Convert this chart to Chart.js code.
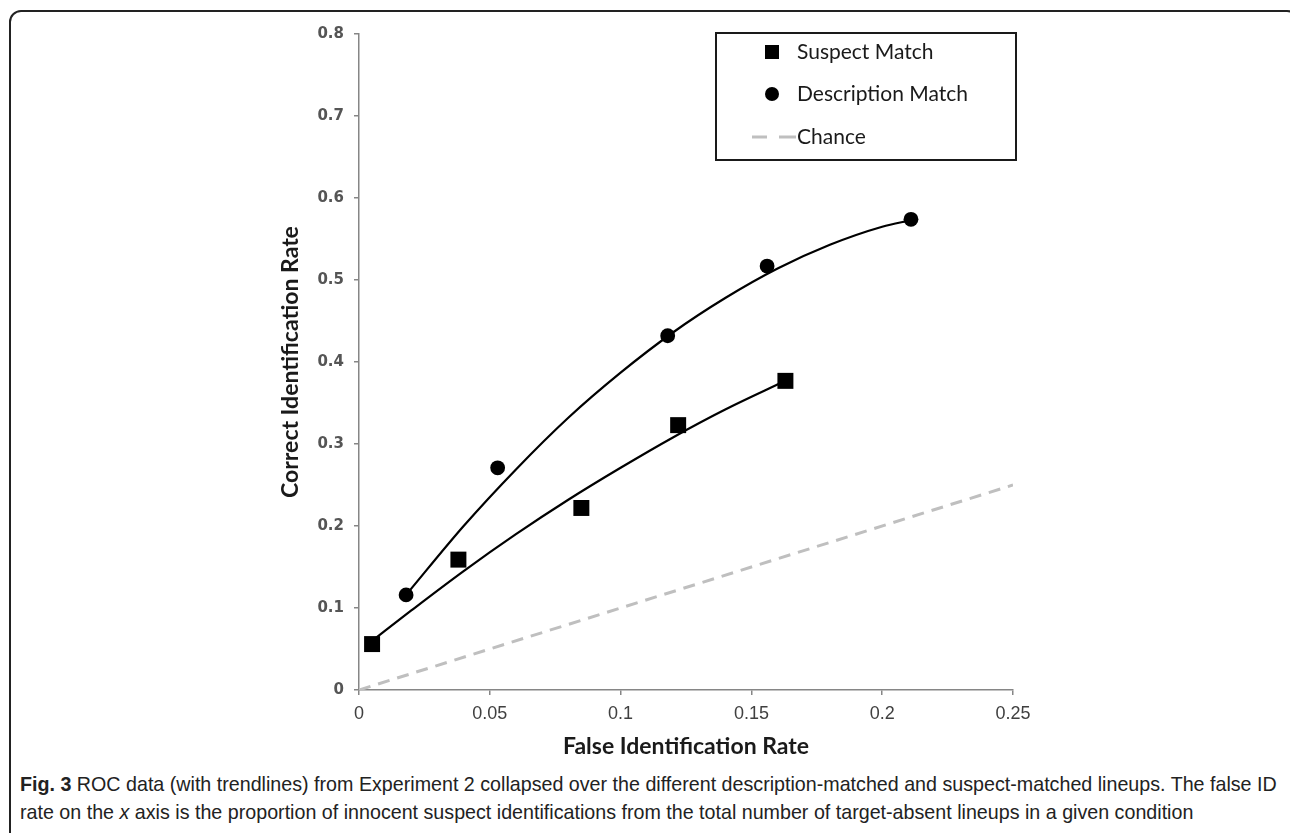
<!DOCTYPE html>
<html>
<head>
<meta charset="utf-8">
<script src="https://cdn.jsdelivr.net/npm/chart.js@4.4.1/dist/chart.umd.min.js"></script>
<style>
  html, body { margin: 0; padding: 0; background: #fff; }
  body { width: 1290px; height: 833px; position: relative; overflow: hidden; }
  #frame {
    position: absolute; left: 9px; top: 10px; width: 1290px; height: 900px;
    border: 2px solid #222; border-radius: 12px; box-sizing: border-box;
  }
  #wrap { position: absolute; left: 0; top: 0; width: 1290px; height: 770px; }
  #caption {
    position: absolute; left: 20px; top: 770px; width: 1265px;
    font-family: "Liberation Sans Narrow", "Liberation Sans", sans-serif;
    font-size: 20px; line-height: 28px; color: #222; white-space: nowrap;
  }
  #caption b { font-weight: bold; }
</style>
</head>
<body>
<div id="frame"></div>
<div id="wrap"><canvas id="rocChart"></canvas></div>
<div id="caption"><span id="line1"><b>Fig. 3</b> ROC data (with trendlines) from Experiment 2 collapsed over the different description-matched and suspect-matched lineups. The false ID</span><br>rate on the <i>x</i> axis is the proportion of innocent suspect identifications from the total number of target-absent lineups in a given condition</div>
<script>
// tick labels
const xTickLabels = ["0", "0.05", "0.1", "0.15", "0.2", "0.25"];
const yTickLabels = ["0", "0.1", "0.2", "0.3", "0.4", "0.5", "0.6", "0.7", "0.8"];

// observed ROC points (false ID rate, correct ID rate)
const suspectX = [0.005, 0.038, 0.085, 0.122, 0.163];
const suspectY = [0.056, 0.159, 0.222, 0.323, 0.377];
const descX = [0.018, 0.053, 0.118, 0.156, 0.211];
const descY = [0.116, 0.271, 0.432, 0.517, 0.574];

// trendlines
const suspectTrendX = [0.005, 0.02, 0.04, 0.06, 0.08, 0.10, 0.12, 0.14, 0.163];
const suspectTrendY = [0.060, 0.097, 0.145, 0.190, 0.232, 0.271, 0.308, 0.342, 0.377];
const descTrendX = [0.018, 0.04, 0.06, 0.08, 0.10, 0.12, 0.14, 0.16, 0.18, 0.20, 0.211];
const descTrendY = [0.116, 0.200, 0.269, 0.332, 0.387, 0.436, 0.478, 0.514, 0.543, 0.565, 0.573];

// chance diagonal
const chanceX = [0, 0.25];
const chanceY = [0, 0.25];

const toPoints = (xs, ys) => xs.map((x, i) => ({ x: x, y: ys[i] }));

// fit caption line 1 to the reference width
(function fitCaption() {
  const line1 = document.getElementById("line1");
  const cap = document.getElementById("caption");
  const w = line1.getBoundingClientRect().width;
  if (w > 0) {
    const size = 20 * 1257 / w;
    cap.style.fontSize = size.toFixed(2) + "px";
  }
})();

// legend drawn as a boxed panel inside the plot
const legendBox = {
  id: "legendBox",
  afterDraw(chart) {
    const { ctx, chartArea } = chart;
    const left = chartArea.left + 357;
    const top = chartArea.top - 1;
    const w = 300, h = 127;
    ctx.save();
    ctx.fillStyle = "#fff";
    ctx.fillRect(left, top, w, h);
    ctx.strokeStyle = "#1a1a1a";
    ctx.lineWidth = 2;
    ctx.strokeRect(left, top, w, h);

    const items = chart.data.datasets.filter(d => d.inLegend);
    const rows = [19, 61, 104];
    ctx.font = '21px Lato, "Open Sans", sans-serif';
    ctx.textBaseline = "middle";
    items.forEach((d, i) => {
      const cy = top + rows[i];
      const mx = left + 56;
      if (d.pointStyle === "rect") {
        ctx.fillStyle = "#000";
        ctx.fillRect(mx - 7, cy - 7, 14, 14);
      } else if (d.pointStyle === "circle") {
        ctx.fillStyle = "#000";
        ctx.beginPath();
        ctx.arc(mx, cy, 7, 0, Math.PI * 2);
        ctx.fill();
      } else {
        ctx.strokeStyle = d.borderColor;
        ctx.lineWidth = 3;
        ctx.beginPath();
        ctx.moveTo(left + 36, cy); ctx.lineTo(left + 51, cy);
        ctx.moveTo(left + 63, cy); ctx.lineTo(left + 80, cy);
        ctx.stroke();
      }
      ctx.fillStyle = "#1a1a1a";
      ctx.fillText(d.label, left + 81, cy);
    });
    ctx.restore();
  }
};

document.addEventListener("DOMContentLoaded", () => {
  const el = document.getElementById("rocChart");
  try {
    new Chart(el, {
      type: "scatter",
      data: {
        datasets: [
          {
            label: "Suspect Match",
            inLegend: true,
            data: toPoints(suspectX, suspectY),
            pointStyle: "rect",
            pointRadius: 11.3,
            backgroundColor: "#000",
            borderColor: "#000",
            borderWidth: 0,
            showLine: false,
            order: 1
          },
          {
            label: "Description Match",
            inLegend: true,
            data: toPoints(descX, descY),
            pointStyle: "circle",
            pointRadius: 7.4,
            backgroundColor: "#000",
            borderColor: "#000",
            borderWidth: 0,
            showLine: false,
            order: 1
          },
          {
            label: "Chance",
            inLegend: true,
            data: toPoints(chanceX, chanceY),
            showLine: true,
            borderColor: "#bfbfbf",
            borderWidth: 3,
            borderDash: [12, 8],
            pointRadius: 0,
            order: 5
          },
          {
            label: "Suspect trend",
            data: toPoints(suspectTrendX, suspectTrendY),
            showLine: true,
            borderColor: "#000",
            borderWidth: 2.2,
            cubicInterpolationMode: "monotone",
            pointRadius: 0,
            order: 3
          },
          {
            label: "Description trend",
            data: toPoints(descTrendX, descTrendY),
            showLine: true,
            borderColor: "#000",
            borderWidth: 2.2,
            cubicInterpolationMode: "monotone",
            pointRadius: 0,
            order: 3
          }
        ]
      },
      options: {
        responsive: true,
        maintainAspectRatio: false,
        animation: false,
        layout: { padding: { left: 273, right: 277, top: 34, bottom: 6 } },
        plugins: {
          legend: { display: false },
          tooltip: { enabled: false }
        },
        scales: {
          x: {
            type: "linear",
            min: 0,
            max: 0.25,
            afterBuildTicks: s => { s.ticks = xTickLabels.map(v => ({ value: Number(v) })); },
            afterFit: s => { s.height = 74; },
            ticks: {
              callback: (v, i) => xTickLabels[i],
              font: { family: '"Liberation Sans Narrow", sans-serif', size: 18 },
              color: "#404040",
              padding: 8,
              maxRotation: 0
            },
            grid: { drawOnChartArea: false, drawTicks: true, tickLength: 5, color: "#868686", lineWidth: 1.5 },
            border: { color: "#868686", width: 1.5 },
            title: {
              display: true,
              text: "False Identification Rate",
              font: { family: 'Lato, "Open Sans", sans-serif', size: 23, weight: "bold" },
              color: "#1a1a1a"
            }
          },
          y: {
            type: "linear",
            min: 0,
            max: 0.8,
            afterBuildTicks: s => { s.ticks = yTickLabels.map(v => ({ value: Number(v) })); },
            afterFit: s => { s.width = 86; },
            ticks: {
              callback: (v, i) => yTickLabels[i],
              font: { family: '"DejaVu Sans", sans-serif', size: 15, weight: "bold" },
              color: "#555555",
              padding: 10
            },
            grid: { drawOnChartArea: false, drawTicks: true, tickLength: 5, color: "#868686", lineWidth: 1.5 },
            border: { color: "#868686", width: 1.5 },
            title: {
              display: true,
              text: "Correct Identification Rate",
              font: { family: 'Lato, "Open Sans", sans-serif', size: 23, weight: "bold" },
              color: "#1a1a1a"
            }
          }
        }
      },
      plugins: [legendBox]
    });
  } catch (e) {
    console.error("ROC chart failed:", e);
  }
});
</script>
</body>
</html>
